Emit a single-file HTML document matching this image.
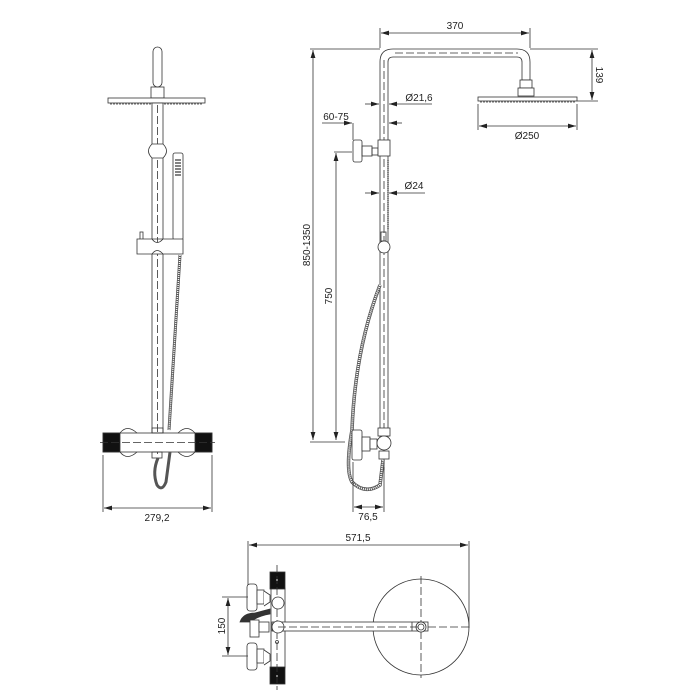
<!DOCTYPE html>
<html><head><meta charset="utf-8"><style>
html,body{margin:0;padding:0;background:#fff;width:700px;height:700px;overflow:hidden}
text{font-family:"Liberation Sans",sans-serif;font-size:10px;fill:#222}
</style></head><body>
<svg width="700" height="700" viewBox="0 0 700 700" xmlns="http://www.w3.org/2000/svg">
<defs>
<marker id="a" viewBox="0 0 10 6" refX="10" refY="3" markerWidth="10" markerHeight="6" orient="auto-start-reverse"><path d="M0,0 L10,3 L0,6 z" fill="#222"/></marker>
</defs>
<g fill="none" stroke="#333" stroke-width="0.8">
<!-- LEFT VIEW -->
<rect x="153" y="47" width="9" height="40" rx="4.5" fill="#fff"/>
<rect x="151" y="87" width="13" height="11"/>
<rect x="108" y="98" width="97" height="5" fill="#fff"/>
<line x1="110" y1="104" x2="203" y2="104" stroke-dasharray="2 1"/>
<rect x="152" y="103" width="11" height="330" fill="#fff"/>
<line x1="157.5" y1="105" x2="157.5" y2="455" stroke-dasharray="8 3"/>
<path d="M152,144 Q145,151 152,158 L163,158 Q170,151 163,144 Z" fill="#fff"/>
<rect x="173" y="153" width="10" height="87" rx="2" fill="#fff"/>
<g stroke-width="1.2"><line x1="175" y1="160" x2="181" y2="160"/><line x1="175" y1="163" x2="181" y2="163"/><line x1="175" y1="166" x2="181" y2="166"/><line x1="175" y1="169" x2="181" y2="169"/><line x1="175" y1="172" x2="181" y2="172"/><line x1="175" y1="175" x2="181" y2="175"/></g>
<rect x="140" y="232" width="3" height="8"/>
<path d="M137,239 L183,239 L183,254 L137,254 Z M152,239 Q157,246 163,239 M152,254 Q157,247 163,254" fill="#fff"/>
<path d="M180,255 L169,430" stroke-width="3" stroke="#555"/>
<path d="M180,255 L169,430" stroke-width="1.5" stroke="#fff" stroke-dasharray="1 1"/>
<rect x="103" y="433" width="109" height="19" fill="#fff"/>
<rect x="103" y="433" width="17" height="19" fill="#111"/>
<rect x="195" y="433" width="17" height="19" fill="#111"/>
<path d="M120,433 Q127,424 137,433 M120,452 Q127,461 137,452 M178,433 Q187,424 195,433 M178,452 Q187,461 195,452"/>
<line x1="100" y1="442.5" x2="215" y2="442.5" stroke-dasharray="8 3"/>
<rect x="152" y="428" width="11" height="5"/>
<rect x="152" y="452" width="10" height="6"/>
<path d="M158,458 Q152,472 157,485 Q162,492 166,482 L170,452" stroke-width="3" stroke="#555"/>
<!-- dim 279,2 -->
<line x1="103" y1="455" x2="103" y2="512"/><line x1="212" y1="455" x2="212" y2="512"/>
<line x1="104" y1="508" x2="211" y2="508" marker-start="url(#a)" marker-end="url(#a)"/>

<!-- RIGHT VIEW -->
<path d="M380,445 L380,62 Q380,49 393,49 L517,49 Q530,49 530,62 L530,80 L522,80 L522,62 Q522,57 517,57 L393,57 Q388,57 388,62 L388,445" fill="#fff"/>
<line x1="384" y1="60" x2="384" y2="470" stroke-dasharray="8 3"/>
<line x1="395" y1="53" x2="518" y2="53" stroke-dasharray="8 3"/>
<rect x="520" y="80" width="12" height="8" fill="#fff"/><rect x="518" y="88" width="16" height="8" fill="#fff"/>
<rect x="478" y="97" width="99" height="4" fill="#fff"/>
<line x1="480" y1="102" x2="575" y2="102" stroke-dasharray="2 1"/>
<!-- dims top -->
<line x1="380" y1="28" x2="380" y2="48"/><line x1="530" y1="28" x2="530" y2="48"/>
<line x1="381" y1="33" x2="529" y2="33" marker-start="url(#a)" marker-end="url(#a)"/>
<line x1="530" y1="49" x2="598" y2="49"/><line x1="577" y1="101" x2="598" y2="101"/>
<line x1="592" y1="50" x2="592" y2="100" marker-start="url(#a)" marker-end="url(#a)"/>
<line x1="478" y1="104" x2="478" y2="130"/><line x1="577" y1="104" x2="577" y2="130"/>
<line x1="479" y1="126" x2="576" y2="126" marker-start="url(#a)" marker-end="url(#a)"/>
<line x1="365" y1="104" x2="379" y2="104" marker-end="url(#a)"/><line x1="432" y1="104" x2="389" y2="104" marker-end="url(#a)"/>
<line x1="322" y1="123" x2="352" y2="123" marker-end="url(#a)"/><line x1="402" y1="123" x2="389" y2="123" marker-end="url(#a)"/>
<line x1="353" y1="123" x2="353" y2="140"/>
<line x1="365" y1="193" x2="379" y2="193" marker-end="url(#a)"/><line x1="425" y1="193" x2="389" y2="193" marker-end="url(#a)"/>
<!-- upper valve -->
<rect x="353" y="140" width="9" height="22" rx="2" fill="#fff"/>
<rect x="362" y="146" width="10" height="10"/><rect x="372" y="148" width="6" height="7"/>
<rect x="378" y="140" width="12" height="16" fill="#fff"/>
<line x1="388" y1="160" x2="388" y2="230" stroke-dasharray="1 1" stroke-width="1.2"/>
<rect x="381" y="232" width="5" height="9"/>
<circle cx="384" cy="247" r="6" fill="#fff"/>
<!-- big dims -->
<line x1="310" y1="49" x2="380" y2="49"/>
<line x1="313" y1="50" x2="313" y2="440" marker-start="url(#a)" marker-end="url(#a)"/>
<line x1="334" y1="152" x2="352" y2="152"/>
<line x1="336" y1="153" x2="336" y2="440" marker-start="url(#a)" marker-end="url(#a)"/>
<line x1="310" y1="442" x2="345" y2="442"/>
<!-- hose -->
<path d="M380,285 Q355,350 352,430 Q345,470 352,482 Q365,495 380,485 L383,460" stroke-width="3.5" stroke="#555"/>
<path d="M380,285 Q355,350 352,430 Q345,470 352,482 Q365,495 380,485 L383,460" stroke-width="2" stroke="#fff" stroke-dasharray="1 1"/>
<!-- lower valve -->
<rect x="352" y="430" width="10" height="30" rx="2" fill="#fff"/>
<rect x="362" y="437" width="8" height="14" fill="#fff"/><rect x="370" y="439" width="7" height="10" fill="#fff"/>
<rect x="378" y="428" width="12" height="8" fill="#fff"/>
<circle cx="384" cy="443" r="7" fill="#fff"/>
<rect x="379" y="451" width="10" height="8" fill="#fff"/>
<line x1="353" y1="462" x2="353" y2="512"/><line x1="384" y1="462" x2="384" y2="512"/>
<line x1="354" y1="507" x2="383" y2="507" marker-start="url(#a)" marker-end="url(#a)"/>

<!-- BOTTOM VIEW -->
<line x1="248" y1="541" x2="248" y2="585"/><line x1="469" y1="541" x2="469" y2="628"/>
<line x1="249" y1="545" x2="468" y2="545" marker-start="url(#a)" marker-end="url(#a)"/>
<circle cx="421" cy="627" r="48"/>
<line x1="421" y1="576" x2="421" y2="678" stroke-dasharray="8 3"/>
<line x1="373" y1="627" x2="472" y2="627" stroke-dasharray="8 3"/>
<rect x="271" y="588" width="14" height="80" fill="#fff"/>
<rect x="270" y="572" width="15" height="17" fill="#111"/>
<rect x="270" y="667" width="15" height="17" fill="#111"/>
<circle cx="277" cy="580" r="1" fill="#fff" stroke="none"/><circle cx="277" cy="676" r="1" fill="#fff" stroke="none"/>
<line x1="277" y1="565" x2="277" y2="690" stroke-dasharray="8 3"/>
<rect x="247" y="584" width="10" height="27" rx="3" fill="#fff"/>
<rect x="257" y="590" width="7" height="14" fill="#fff"/><path d="M264,591 L270,595 L270,602 L264,606" fill="#fff"/>
<rect x="247" y="643" width="10" height="27" rx="3" fill="#fff"/>
<rect x="257" y="649" width="7" height="14" fill="#fff"/><path d="M264,650 L270,654 L270,661 L264,665" fill="#fff"/>
<circle cx="278" cy="603" r="6" fill="#fff"/>
<path d="M240,622 Q243,613 255,613 L270,609 L270,614 Q258,616 250,622 Z" fill="#333"/>
<rect x="250" y="620" width="9" height="17" fill="#fff"/><rect x="259" y="622" width="10" height="10" fill="#fff"/>
<rect x="272" y="622" width="156" height="9" fill="#fff"/>
<circle cx="278" cy="627" r="6" fill="#fff"/>
<circle cx="421" cy="627" r="5" fill="#fff"/>
<circle cx="421" cy="627" r="3"/>
<line x1="412" y1="622" x2="412" y2="631"/>
<line x1="278" y1="627" x2="420" y2="627" stroke-dasharray="8 3"/>
<circle cx="277" cy="642" r="1.5"/>
<line x1="222" y1="597" x2="248" y2="597"/><line x1="222" y1="656" x2="248" y2="656"/>
<line x1="228" y1="598" x2="228" y2="655" marker-start="url(#a)" marker-end="url(#a)"/>
</g>
<text x="157" y="521" text-anchor="middle">279,2</text>
<text x="455" y="29" text-anchor="middle">370</text>
<text x="596" y="75" text-anchor="middle" transform="rotate(90 596 75)">139</text>
<text x="527" y="139" text-anchor="middle">Ø250</text>
<text x="419" y="101" text-anchor="middle">Ø21,6</text>
<text x="336" y="120" text-anchor="middle">60-75</text>
<text x="414" y="189" text-anchor="middle">Ø24</text>
<text x="310" y="245" text-anchor="middle" transform="rotate(-90 310 245)">850-1350</text>
<text x="332" y="296" text-anchor="middle" transform="rotate(-90 332 296)">750</text>
<text x="368" y="520" text-anchor="middle">76,5</text>
<text x="358" y="541" text-anchor="middle">571,5</text>
<text x="225" y="626" text-anchor="middle" transform="rotate(-90 225 626)">150</text>
</svg>
</body></html>
